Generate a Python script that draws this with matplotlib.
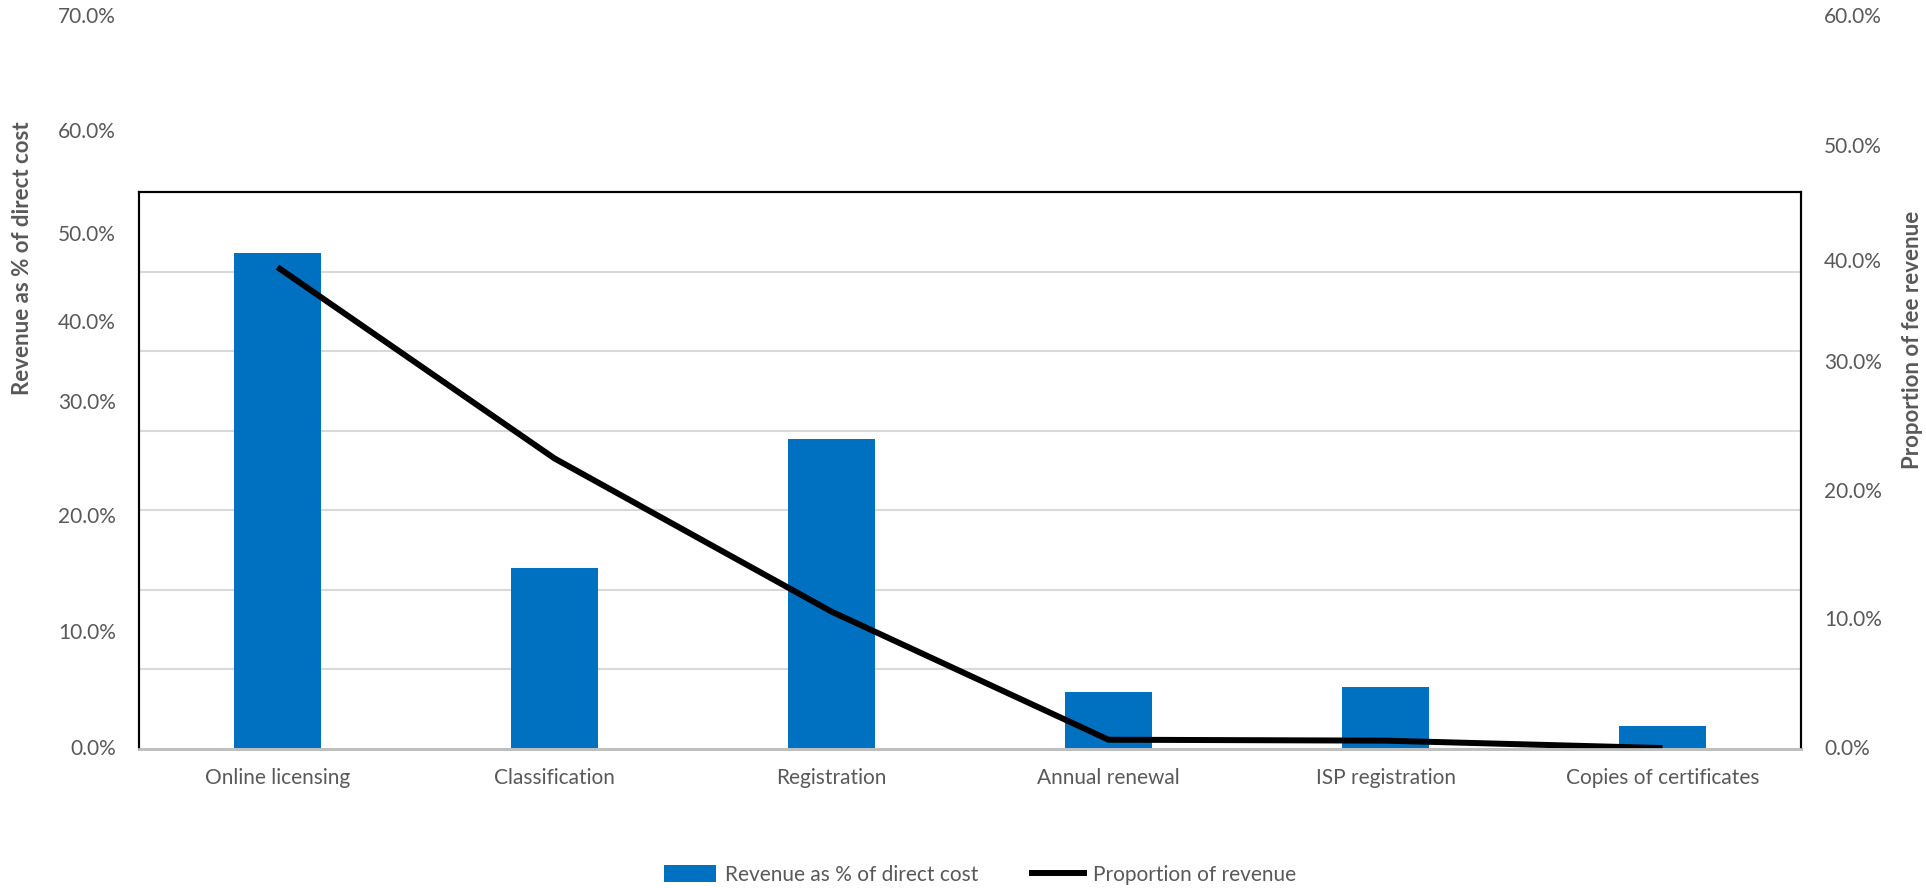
"""
Fee revenue vs direct cost by activity: bars on the left axis, share of
fee revenue as a line on the right axis.
"""

import matplotlib

matplotlib.use("Agg")
import matplotlib.pyplot as plt
from matplotlib.lines import Line2D
from matplotlib.patches import Patch

plt.rcParams["font.family"] = ["Lato", "DejaVu Sans"]

categories = [
    "Online licensing",
    "Classification",
    "Registration",
    "Annual renewal",
    "ISP registration",
    "Copies of certificates",
]
revenue_pct_of_cost = [0.623, 0.227, 0.389, 0.072, 0.078, 0.029]
proportion_of_revenue = [0.519, 0.313, 0.148, 0.010, 0.009, 0.001]

left_tick_labels = ["0.0%", "10.0%", "20.0%", "30.0%", "40.0%", "50.0%", "60.0%", "70.0%"]
right_tick_labels = ["0.0%", "10.0%", "20.0%", "30.0%", "40.0%", "50.0%", "60.0%"]

# layout (pixel rows where the tick texts sit in the original export)
W, H = 1926, 888
LEFT_LABEL_Y = [749, 633, 517, 403, 323, 235, 132, 17]
RIGHT_LABEL_Y = [749, 620, 492, 363, 262, 147, 17]

BLUE = "#0070C0"
GREY = "#595959"


def fx(px):
    return px / W


def fy(py):
    return 1 - py / H


fig = plt.figure(figsize=(W / 100, H / 100), dpi=100)
ax = fig.add_axes([fx(139), fy(749), fx(1801 - 139), (749 - 192) / H])
ax2 = ax.twinx()

x = list(range(len(categories)))
ax.bar(x, revenue_pct_of_cost, width=0.315, color=BLUE, zorder=2)
ax.set_xlim(-0.5, len(categories) - 0.5)
ax.set_ylim(0, 0.7)
ax.set_yticks([i / 10 for i in range(8)])
ax.yaxis.grid(True, color="#d9d9d9", lw=1.5, zorder=0)
ax.set_axisbelow(True)
ax.tick_params(axis="y", length=0, labelleft=False)
ax.tick_params(axis="x", length=0, pad=14)
ax.set_xticks(x)
ax.set_xticklabels(categories, fontsize=15, color=GREY)

ax2.plot(x, proportion_of_revenue, color="black", lw=4.3, solid_capstyle="butt")
ax2.set_ylim(0, 0.6)
ax2.tick_params(axis="y", length=0, labelright=False)

for a in (ax, ax2):
    for side in ("left", "top", "right"):
        a.spines[side].set_color("black")
        a.spines[side].set_linewidth(1.5)
    a.spines["bottom"].set_color("#bfbfbf")
    a.spines["bottom"].set_linewidth(2)

for label, py in zip(left_tick_labels, LEFT_LABEL_Y):
    fig.text(fx(116), fy(py), label, ha="right", va="center", fontsize=15, color=GREY)
for label, py in zip(right_tick_labels, RIGHT_LABEL_Y):
    fig.text(fx(1824), fy(py), label, ha="left", va="center", fontsize=15, color=GREY)

fig.text(fx(23), fy(258), "Revenue as % of direct cost", rotation=90, ha="center",
         va="center", fontsize=16, fontweight="bold", color=GREY)
fig.text(fx(1912), fy(340), "Proportion of fee revenue", rotation=90, ha="center",
         va="center", fontsize=16, fontweight="bold", color=GREY)

handles = [
    Patch(facecolor=BLUE, label="Revenue as % of direct cost"),
    Line2D([], [], color="black", lw=4.3, label="Proportion of revenue"),
]
fig.legend(handles=handles, loc="center", bbox_to_anchor=(fx(980), fy(875)), ncol=2,
           frameon=False, fontsize=15, labelcolor=GREY, handlelength=2.5,
           handleheight=0.9, columnspacing=2.6, handletextpad=0.4)

fig.savefig("out.png", dpi=100)
